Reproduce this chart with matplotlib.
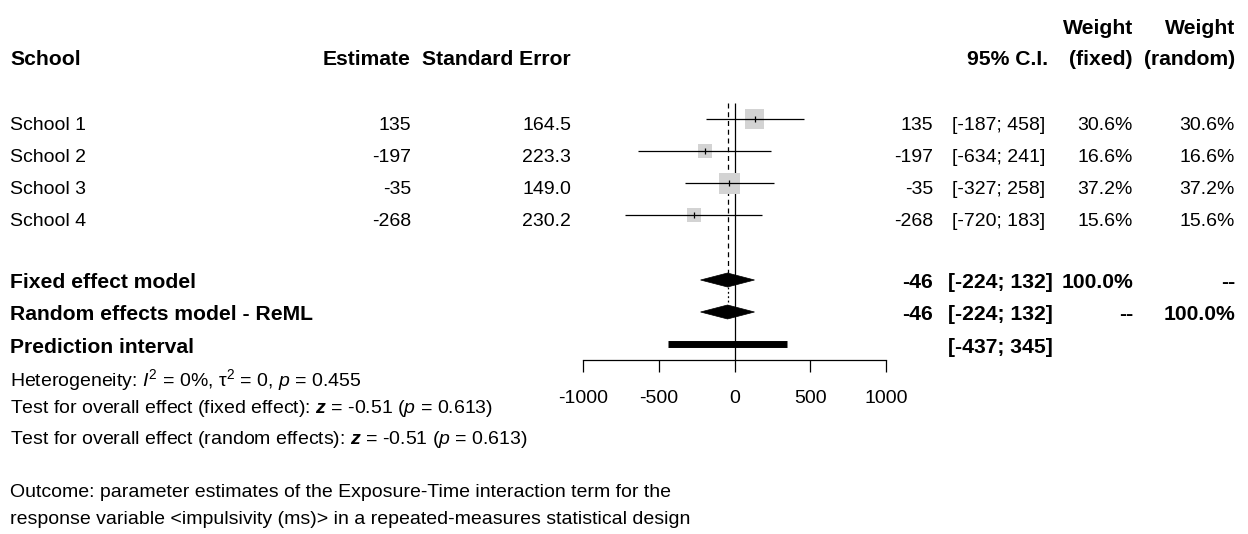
import numpy as np
import matplotlib
matplotlib.use('Agg')
import matplotlib.pyplot as plt
from matplotlib.patches import Polygon

plt.rcParams['font.family'] = ['Liberation Sans', 'DejaVu Sans']
plt.rcParams['mathtext.fontset'] = 'custom'
plt.rcParams['mathtext.rm'] = 'Liberation Sans'
plt.rcParams['mathtext.it'] = 'Liberation Sans:italic'
plt.rcParams['mathtext.bf'] = 'Liberation Sans:bold'
plt.rcParams['mathtext.bfit'] = 'Liberation Sans:italic:bold'

# study data
schools = ['School 1', 'School 2', 'School 3', 'School 4']
est = [135, -197, -35, -268]
se = [164.5, 223.3, 149.0, 230.2]
ci_lo = [-187, -634, -327, -720]
ci_hi = [458, 241, 258, 183]
w_fixed = [30.6, 16.6, 37.2, 15.6]
w_random = [30.6, 16.6, 37.2, 15.6]

# pooled
fixed_est, fixed_lo, fixed_hi = -46, -224, 132
random_est, random_lo, random_hi = -46, -224, 132
pred_lo, pred_hi = -437, 345
ticks = [-1000, -500, 0, 500, 1000]

FS = 14.0	# regular text
FB = 15.2	# bold text
W, H = 1248, 534

# layout in pixels
row_y = [119, 151, 183, 215]
fixed_y, random_y, pred_y = 280, 312, 344
axis_y, top_y = 360, 103
dh = 7  # diamond half height

fig = plt.figure(figsize=(W / 100, H / 100), dpi=100)
tx = fig.add_axes([0, 0, 1, 1])
tx.set_xlim(0, W)
tx.set_ylim(H, 0)
tx.axis('off')

fx = fig.add_axes([583 / W, 0, (886 - 583) / W, 1])
fx.set_xlim(-1000, 1000)
fx.set_ylim(H, 0)
fx.patch.set_visible(False)
for s in ['left', 'right', 'top']:
	fx.spines[s].set_visible(False)
fx.spines['bottom'].set_position(('data', axis_y))
fx.spines['bottom'].set_bounds(-1000, 1000)
fx.spines['bottom'].set_linewidth(0.9)
fx.set_xticks(ticks)
fx.set_xticklabels([str(t) for t in ticks])
fx.tick_params(axis='x', direction='out', length=8.6, width=0.9, pad=13, labelsize=FS)
fx.set_yticks([])

# reference lines
fx.vlines(0, top_y, axis_y, color='k', lw=0.9)
fx.vlines(fixed_est, top_y, fixed_y - dh, color='k', lw=0.9, linestyles=(0, (4, 3)))
fx.vlines(random_est, fixed_y + dh, random_y - dh, color='k', lw=0.9, linestyles=(0, (1.5, 2)))

# study CIs and squares
fx.hlines(row_y, ci_lo, ci_hi, color='k', lw=0.9, zorder=3)
side = 21 * np.sqrt(np.array(w_fixed) / max(w_fixed)) * 0.72
fx.scatter(est, row_y, marker='s', s=side ** 2, c='#d3d3d3', linewidths=0, zorder=2)
fx.scatter(est, row_y, marker='|', s=(6 * 0.72) ** 2, c='k', linewidths=0.9, zorder=4)

# diamonds
for e, lo, hi, y in [(fixed_est, fixed_lo, fixed_hi, fixed_y), (random_est, random_lo, random_hi, random_y)]:
	fx.add_patch(Polygon([(lo, y), (e, y - dh), (hi, y), (e, y + dh)], closed=True, fc='k', ec='k', lw=0.5, zorder=4))

# prediction interval
fx.hlines(pred_y, pred_lo, pred_hi, color='k', lw=5, capstyle='butt')


def t(x, y, s, ha='left', bold=False):
	tx.text(x, y, s, ha=ha, va='baseline', fontsize=FB if bold else FS,
			fontweight='bold' if bold else 'normal')


# column anchors
x_name, x_est, x_se = 10, 411, 571
x_est2, x_ci, x_wf, x_wr = 933, 952, 1133, 1235

# headers
t(x_wf, 34, 'Weight', 'right', True)
t(x_wr, 34, 'Weight', 'right', True)
t(x_name, 65, 'School', bold=True)
t(x_est, 65, 'Estimate', 'right', True)
t(x_se, 65, 'Standard Error', 'right', True)
t(1048, 65, '95% C.I.', 'right', True)
t(x_wf, 65, '(fixed)', 'right', True)
t(x_wr, 65, '(random)', 'right', True)

# study rows
for i in range(len(schools)):
	y = row_y[i] + 11
	t(x_name, y, schools[i])
	t(x_est, y, f'{est[i]}', 'right')
	t(x_se, y, f'{se[i]:.1f}', 'right')
	t(x_est2, y, f'{est[i]}', 'right')
	t(x_ci, y, f'[{ci_lo[i]}; {ci_hi[i]}]')
	t(x_wf, y, f'{w_fixed[i]:.1f}%', 'right')
	t(x_wr, y, f'{w_random[i]:.1f}%', 'right')

# summary rows
y = fixed_y + 8
t(x_name, y, 'Fixed effect model', bold=True)
t(x_est2, y, f'{fixed_est}', 'right', True)
t(x_ci - 4, y, f'[{fixed_lo}; {fixed_hi}]', bold=True)
t(x_wf, y, f'{sum(w_fixed):.1f}%', 'right', True)
t(x_wr, y, '--', 'right', True)

y = random_y + 8
t(x_name, y, 'Random effects model - ReML', bold=True)
t(x_est2, y, f'{random_est}', 'right', True)
t(x_ci - 4, y, f'[{random_lo}; {random_hi}]', bold=True)
t(x_wf, y, '--', 'right', True)
t(x_wr, y, f'{sum(w_random):.1f}%', 'right', True)

y = pred_y + 9
t(x_name, y, 'Prediction interval', bold=True)
t(x_ci - 4, y, f'[{pred_lo}; {pred_hi}]', bold=True)

# stats text
t(x_name, 386, r'Heterogeneity: $I^2$ = 0%, τ$^2$ = 0, $p$ = 0.455')
t(x_name, 413, r'Test for overall effect (fixed effect): $\mathbfit{z}$ = -0.51 ($p$ = 0.613)')
t(x_name, 444, r'Test for overall effect (random effects): $\mathbfit{z}$ = -0.51 ($p$ = 0.613)')
t(x_name, 497, 'Outcome: parameter estimates of the Exposure-Time interaction term for the')
t(x_name, 524, 'response variable <impulsivity (ms)> in a repeated-measures statistical design')

fig.savefig('out.png', dpi=100)
